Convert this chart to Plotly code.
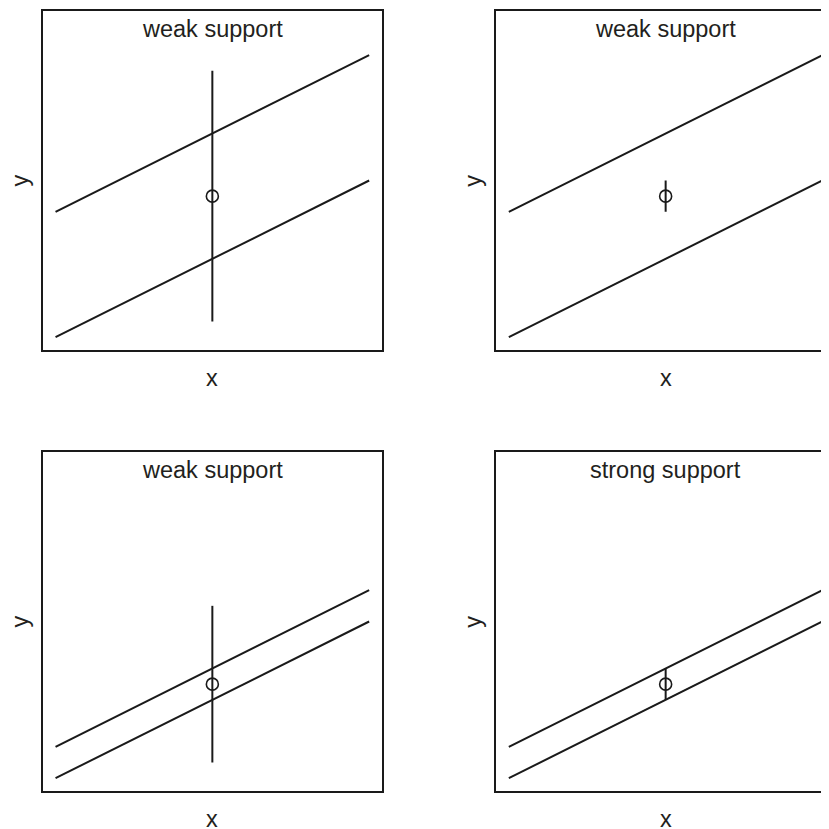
import plotly.graph_objects as go

# ---- data ----
titles = ["weak support", "weak support", "weak support", "strong support"]
line_x = [0, 10]
upper_line_y = [[4, 9], [4, 9], [1, 6], [1, 6]]
lower_line_y = [[0, 5], [0, 5], [0, 5], [0, 5]]
point_x = [5, 5, 5, 5]
point_y = [4.5, 4.5, 3.0, 3.0]
point_err = [4.0, 0.5, 2.5, 0.5]
x_label = "x"
y_label = "y"

# ---- layout geometry (page pixels; page body has an 8px margin) ----
OFF = 8
W = H = 829 - OFF
col_px = [(43.0 - OFF, 381.7 - OFF), (496.3 - OFF, 835.0 - OFF)]   # right panel cut off by page edge
row_px = [(11.3 - OFF, 349.7 - OFF), (452.3 - OFF, 790.7 - OFF)]
rng = [-0.4, 10.4]
INK = "#1a1a1a"
TXT = "#231f20"
FONT = "Liberation Sans, Arial, Helvetica, sans-serif"
FS = 23.5

fig = go.Figure()
annotations = []
for i in range(4):
    r, c = divmod(i, 2)
    n = "" if i == 0 else str(i + 1)
    xa, ya = "x" + n, "y" + n
    x0p, x1p = col_px[c]
    y0p, y1p = row_px[r]
    x1clip = min(x1p, W)
    xspan = rng[1] - rng[0]
    xr = [rng[0], rng[0] + xspan * (x1clip - x0p) / (x1p - x0p)]
    fig.update_layout(**{
        "xaxis" + n: dict(domain=[x0p / W, x1clip / W], range=xr, anchor=ya,
                          showline=True, mirror=True, linecolor=INK, linewidth=1.8,
                          showticklabels=False, ticks="", showgrid=False, zeroline=False),
        "yaxis" + n: dict(domain=[1 - y1p / H, 1 - y0p / H], range=rng, anchor=xa,
                          showline=True, mirror=(c == 0), linecolor=INK, linewidth=1.8,
                          showticklabels=False, ticks="", showgrid=False, zeroline=False),
    })
    for ys in (upper_line_y[i], lower_line_y[i]):
        fig.add_trace(go.Scatter(x=line_x, y=ys, mode="lines", xaxis=xa, yaxis=ya,
                                 line=dict(color=INK, width=2), showlegend=False,
                                 hoverinfo="skip"))
    fig.add_trace(go.Scatter(x=[point_x[i]], y=[point_y[i]], mode="markers",
                             xaxis=xa, yaxis=ya, showlegend=False,
                             marker=dict(symbol="circle-open", size=12,
                                         color=INK, line=dict(width=1.6, color=INK)),
                             error_y=dict(type="data", array=[point_err[i]], width=0,
                                          thickness=2, color=INK)))
    bh = y1p - y0p
    cx_px = (x0p + x1p) / 2
    # title inside box
    annotations.append(dict(text=titles[i], x=cx_px / W, y=1 - (y0p + 17.5) / H,
                            xref="paper", yref="paper", xanchor="center", yanchor="middle",
                            showarrow=False, font=dict(family=FONT, size=FS, color=TXT)))
    # x label
    annotations.append(dict(text=x_label, x=cx_px / W, y=1 - (y1p + 28.5) / H,
                            xref="paper", yref="paper", xanchor="center", yanchor="middle",
                            showarrow=False, font=dict(family=FONT, size=FS, color=TXT)))
    # y label
    annotations.append(dict(text=y_label, x=(x0p - 24) / W, y=1 - (y0p + bh / 2) / H,
                            xref="paper", yref="paper", xanchor="center", yanchor="middle",
                            textangle=-90, showarrow=False,
                            font=dict(family=FONT, size=FS, color=TXT)))

fig.update_layout(width=W, height=H, margin=dict(l=0, r=0, t=0, b=0),
                  paper_bgcolor="white", plot_bgcolor="white",
                  annotations=annotations)
fig.write_html("out.html")
